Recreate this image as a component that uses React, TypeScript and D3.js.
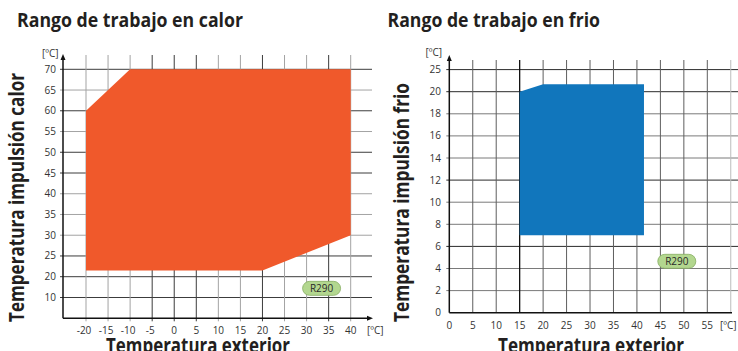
import React from 'react';
import * as d3 from 'd3';

// ---- Data: heating chart ----
const heatXTicks = [-20, -15, -10, -5, 0, 5, 10, 15, 20, 25, 30, 35, 40];
const heatYTicks = [10, 20, 25, 30, 35, 40, 45, 50, 55, 60, 65, 70];
const heatEnvelope: [number, number][] = [[-20, 60], [-10, 70], [40, 70], [40, 30], [20, 21.5], [-20, 21.5]];
const heatTag: [number, number] = [33.4, 14.4];
const heatDarkX = [-5, 0, 5, 20, 35];
const heatDarkY = [70, 60, 50, 45, 25, 20, 10];

// ---- Data: cooling chart ----
const coolXTicks = [0, 5, 10, 15, 20, 25, 30, 35, 40, 45, 50, 55];
const coolXGrid = [5, 10, 15, 20, 25, 30, 35, 40, 45, 50, 55, 60];
const coolYTicks = [0, 2, 4, 6, 8, 10, 12, 14, 16, 18, 20, 25];
const coolEnvelope: [number, number][] = [[15, 20], [20, 21.7], [41.5, 21.7], [41.5, 7], [15, 7]];
const coolTag: [number, number] = [48.5, 4.65];
const coolDarkY = [25, 20, 12, 6];

const refrigerant = 'R290';
const unit = '[ºC]';

const FONT = "'Open Sans', 'DejaVu Sans', sans-serif";

function Tag({ x, y }: { x: number; y: number }) {
  return (
    <g>
      <rect x={x - 19} y={y - 7} width={38} height={14} rx={7} fill="#b3d78f" stroke="#86ad62" strokeWidth={0.8} />
      <text x={x} y={y + 3.5} textAnchor="middle" fontSize={10} fontFamily={FONT} fill="#2a2a2a">{refrigerant}</text>
    </g>
  );
}

function HeatChart() {
  const x = d3.scaleLinear().domain([-20, 40]).range([86, 350.7]);
  const y = d3.scaleLinear().domain([0, 10, 20, 70]).range([318.3, 297.5, 276.7, 69.3]);
  const axisX = 63;
  const axisY = y(0);
  const line = d3.line<[number, number]>().x(d => x(d[0])).y(d => y(d[1]));
  return (
    <g>
      {/* horizontal grid */}
      {heatYTicks.map(t => (
        <line key={'h' + t} x1={axisX - 3} x2={372} y1={y(t)} y2={y(t)}
          stroke={heatDarkY.includes(t) ? '#3c3c3c' : '#a3a3a3'} strokeWidth={1} />
      ))}
      {/* vertical grid */}
      {heatXTicks.map(t => (
        <line key={'v' + t} x1={x(t)} x2={x(t)} y1={55} y2={axisY + 3}
          stroke={heatDarkX.includes(t) ? '#3c3c3c' : '#a3a3a3'} strokeWidth={1} />
      ))}
      <path d={line(heatEnvelope)! + 'Z'} fill="#f0592b" />
      {/* axes */}
      <line x1={axisX} x2={axisX} y1={axisY} y2={59} stroke="#111" strokeWidth={1.5} />
      <path d={`M${axisX - 2.5},${60} L${axisX},${54} L${axisX + 2.5},${60} Z`} fill="#111" />
      <line x1={axisX} x2={368} y1={axisY} y2={axisY} stroke="#111" strokeWidth={1.5} />
      <path d={`M${367},${axisY - 2.5} L${373},${axisY} L${367},${axisY + 2.5} Z`} fill="#111" />
      {heatYTicks.map(t => (
        <text key={'yl' + t} x={56} y={y(t) + 3.5} textAnchor="end" fontSize={10} fontFamily={FONT} fill="#333">{t}</text>
      ))}
      {heatXTicks.map(t => (
        <text key={'xl' + t} x={x(t) - (t < 0 ? 2 : 0)} y={333.5} textAnchor="middle" fontSize={10} fontFamily={FONT} fill="#333">{t}</text>
      ))}
      <text x={42} y={57} fontSize={10} fontFamily={FONT} fill="#333">{unit}</text>
      <text x={367} y={333.5} fontSize={10} fontFamily={FONT} fill="#333">{unit}</text>
      <Tag x={x(heatTag[0])} y={y(heatTag[1])} />
      {/* titles */}
      <text x={17} y={27} fontSize={19.5} fontWeight="bold" fontFamily={FONT} fill="#231f20"
        textLength={226} lengthAdjust="spacingAndGlyphs">Rango de trabajo en calor</text>
      <text x={106} y={352.7} fontSize={21} fontWeight="bold" fontFamily={FONT} fill="#231f20"
        textLength={184} lengthAdjust="spacingAndGlyphs">Temperatura exterior</text>
      <text transform={`translate(23.5,322) rotate(-90)`} x={0} y={0} fontSize={21} fontWeight="bold" fontFamily={FONT} fill="#231f20"
        textLength={249} lengthAdjust="spacingAndGlyphs">Temperatura impulsión calor</text>
    </g>
  );
}

function CoolChart() {
  const x = d3.scaleLinear().domain([0, 55]).range([449.3, 707.3]);
  const y = d3.scaleLinear().domain([0, 20, 25]).range([312.7, 91.7, 69.6]);
  const axisX = x(0);
  const axisY = y(0);
  const line = d3.line<[number, number]>().x(d => x(d[0])).y(d => y(d[1]));
  return (
    <g>
      {coolYTicks.filter(t => t > 0).map(t => (
        <line key={'h' + t} x1={axisX - 3} x2={738} y1={y(t)} y2={y(t)}
          stroke={coolDarkY.includes(t) ? '#2a2a2a' : '#7a7a7a'} strokeWidth={1} />
      ))}
      {coolXGrid.map(t => (
        <line key={'v' + t} x1={x(t)} x2={x(t)} y1={60} y2={axisY}
          stroke={t === 15 ? '#111' : t === 60 ? '#bdbdbd' : '#5e5e5e'} strokeWidth={t === 15 ? 1.3 : 1} />
      ))}
      <path d={line(coolEnvelope)! + 'Z'} fill="#1176bc" />
      <line x1={axisX} x2={axisX} y1={axisY} y2={60} stroke="#111" strokeWidth={1.5} />
      <path d={`M${axisX - 2.5},${61} L${axisX},${55} L${axisX + 2.5},${61} Z`} fill="#111" />
      <line x1={axisX} x2={732} y1={axisY} y2={axisY} stroke="#111" strokeWidth={1.5} />
      {coolYTicks.map(t => (
        <text key={'yl' + t} x={441} y={y(t) + 3.5} textAnchor="end" fontSize={10} fontFamily={FONT} fill="#333">{t}</text>
      ))}
      {coolXTicks.map(t => (
        <text key={'xl' + t} x={x(t)} y={328.5} textAnchor="middle" fontSize={10} fontFamily={FONT} fill="#333">{t}</text>
      ))}
      <text x={425.5} y={56} fontSize={10} fontFamily={FONT} fill="#333">{unit}</text>
      <text x={720} y={328.5} fontSize={10} fontFamily={FONT} fill="#333">{unit}</text>
      <Tag x={x(coolTag[0])} y={y(coolTag[1])} />
      <text x={387.5} y={27} fontSize={19.5} fontWeight="bold" fontFamily={FONT} fill="#231f20"
        textLength={212.5} lengthAdjust="spacingAndGlyphs">Rango de trabajo en frio</text>
      <text x={498} y={352.7} fontSize={21} fontWeight="bold" fontFamily={FONT} fill="#231f20"
        textLength={186} lengthAdjust="spacingAndGlyphs">Temperatura exterior</text>
      <text transform={`translate(408.5,322) rotate(-90)`} x={0} y={0} fontSize={21} fontWeight="bold" fontFamily={FONT} fill="#231f20"
        textLength={239} lengthAdjust="spacingAndGlyphs">Temperatura impulsión frio</text>
    </g>
  );
}

export default function App() {
  return (
    <svg width={738} height={351} viewBox="0 0 738 351"
      style={{ position: 'absolute', left: 0, top: 0, background: '#fff', display: 'block' }}>
      <rect x={0} y={0} width={738} height={351} fill="#fff" />
      <HeatChart />
      <CoolChart />
    </svg>
  );
}
